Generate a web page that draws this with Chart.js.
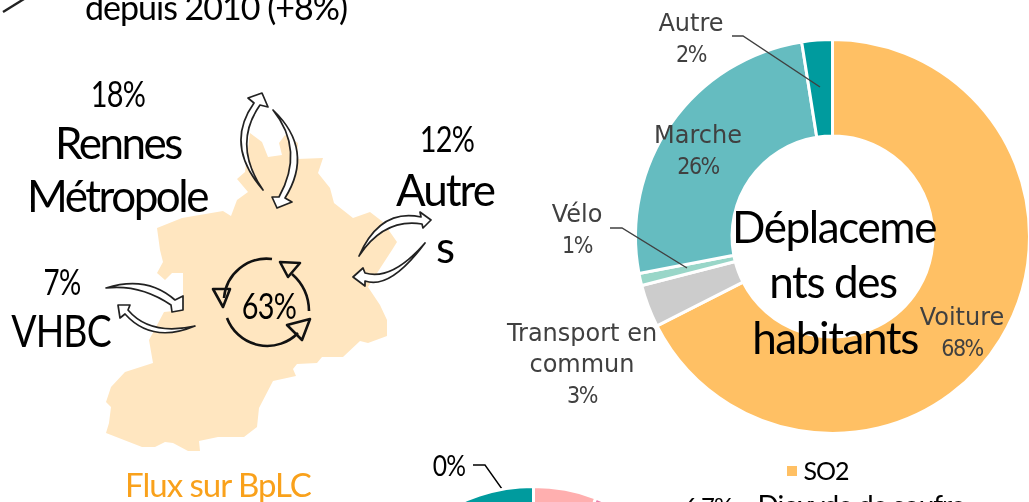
<!DOCTYPE html>
<html lang="fr"><head><meta charset="utf-8">
<script src="https://cdn.jsdelivr.net/npm/chart.js@4"></script>
<style>
html,body{margin:0;padding:0;background:#fff;width:1029px;height:502px;overflow:hidden}
#stage{position:relative;width:1029px;height:502px;overflow:hidden}
canvas{position:absolute}
svg{position:absolute;left:0;top:0}
.t{position:absolute;white-space:nowrap;font-family:Lato,sans-serif;color:#000;line-height:1}
</style></head><body>
<div id="stage">
<svg id="map" width="1029" height="502">
<polygon fill="#FFE6C0" points="250,133 262,142 268,157 282,155 279,143 285,135 298,143 297,159 323,158 318,173 330,188 334,203 353,218 370,212 383,222 397,242 392,250 368,287 380,305 387,320 387,336 368,343 360,341 343,357 322,357 317,363 297,364 293,369 296,376 273,381 259,408 257,427 244,437 218,437 199,441 200,451 188,451 173,443 165,442 155,447 142,447 106,433 109,423 111,407 106,402 111,387 125,372 153,363 149,340 164,312 183,310 183,273 172,273 165,280 157,273 163,262 160,250 157,228 182,218 223,211 231,216 237,200 248,192 237,179 245,172"/>
<line x1="3" y1="12" x2="24" y2="-1" stroke="#222" stroke-width="2.4"/>
<g id="arrows" fill="#fff" stroke="#222" stroke-width="1.7" stroke-linejoin="round"></g>
<g fill="none" stroke="#111" stroke-width="2.6" stroke-linejoin="round">
<path d="M272 259A43 43 0 0 0 224 298"/><polygon points="213,289 223,307 230,289"/>
<path d="M227 318A43 43 0 0 0 298 333"/><polygon points="287,325 310,319 302,340"/>
<path d="M309 311A50 50 0 0 0 292 274"/><polygon points="300,263 280,262 288,277"/>
</g>
<polyline points="473,465 485,465 512,503" fill="none" stroke="#000" stroke-width="1.4"/>
</svg>
<canvas id="modal" width="1040" height="502" style="left:0;top:0"></canvas>
<canvas id="air" width="353" height="353" style="left:357px;top:485px"></canvas>
<div id="texts"></div>
</div>
<script>
// Modal share of residents' trips, chart 1
const modeNames = ["Voiture","Transport en commun","Vélo","Marche","Autre"];
const modeValues = [67.5,3.5,1,25.5,2.5];
const modeColours = ["#FFC064","#CCCCCC","#99D6C8","#65BCC0","#009B9E"];
const modeLabels = [["Voiture","68%"],["Transport en","commun","3%"],["Vélo","1%"],["Marche","26%"],["Autre","2%"]];
const modeLabelAnchors = [[962,325],[582,341],[577,222],[698,143],[691,31]];
const modeLeaders = [null,null,[[610,228],[622,228],[687,268]],null,[[732,36],[743,36],[820,87]]];

// Air pollutants, chart 2 (only its top edge falls inside the picture)
const airNames = ["Dioxyde de soufre","Polluant 2","Reste","Autre"];
const airValues = [5.8,4.2,80,10];
const airColours = ["#FFAFAF","#E87EAB","#CCCCCC","#009B9E"];

// Flows on the territory: text, centre x, top y, font size, letter spacing, horizontal scale
const flowTexts = [
 ["depuis 2010 (+8%)",216,-10,34,-1,1],["18%",118,74,37,-1,.78],["Rennes",118,120,44,-2.5,1],["Métropole",117,173,44,-2.5,1],
 ["12%",447,119,37,-1,.78],["Autre",445,167,44,-2,1],["s",445,224,44,-1,1],["7%",62,262,37,-1,.75],["VHBC",61,308,44,-1,.85],["63%",269,286,37,-1,.78],
 ["0%",449,451,28,-1,.88],["SO2",826,458,25,-1,1],["Dioxyde de soufre",861,491,28,-1,1],["6,7%",708,494,24,-1,1]
];
const centreTitle = [["Déplaceme",834,204],["nts des",833,259],["habitants",835,315]];

const textLayer=document.getElementById('texts');
function addText(s,x,y,size,col,ls,sx){const d=document.createElement('div');d.className='t';d.textContent=s;
 d.style.cssText=`left:${x}px;top:${y}px;font-size:${size}px;color:${col};letter-spacing:${ls}px;transform:translateX(-50%) scaleX(${sx})`;textLayer.appendChild(d);}
flowTexts.forEach(t=>addText(t[0],t[1],t[2],t[3],'#000',t[4],t[5]));
centreTitle.forEach(t=>addText(t[0],t[1],t[2],44,'#000',-1.4,1));
addText("Flux sur BpLC",218,468,33,"#F9A11B",-1,1);
const sq=document.createElement('div');sq.style.cssText='position:absolute;left:787px;top:466px;width:10px;height:10px;background:#FFC064';textLayer.appendChild(sq);

// Decorative hand-drawn flow arrows
const arrowShapes=[
 "M263 190Q224 145 254 103L248 98L262 93L268 107L260 105Q232 145 263 190Z",
 "M273 110Q305 150 279 197L272 197L277 208L292 202L285 198Q315 150 273 110Z",
 "M359 256Q380 208 421 217L420 212L431 220L423 228L422 224Q384 218 359 256Z",
 "M425 243Q392 281 365 273L363 268L353 277L365 286L365 281Q390 290 425 243Z",
 "M106 288Q147 275 175 300L183 296L183 310L172 312L171 305Q140 284 106 288Z",
 "M195 326Q150 336 128 310L130 305L118 305L120 318L125 314Q152 344 195 326Z"];
document.getElementById('arrows').innerHTML=arrowShapes.map(d=>`<path d="${d}"/>`).join('');

const labelPlugin={id:'labels',afterDraw(c){const x=c.ctx;x.save();
 x.strokeStyle='#404040';x.lineWidth=1.4;
 modeLeaders.forEach(l=>{if(!l)return;x.beginPath();l.forEach((p,i)=>i?x.lineTo(p[0],p[1]):x.moveTo(p[0],p[1]));x.stroke();});
 x.fillStyle='#404040';x.textAlign='center';x.textBaseline='alphabetic';
 modeLabels.forEach((lines,i)=>lines.forEach((s,j)=>{
  const pct=s.endsWith('%');
  x.font=pct?'23px "DejaVu Sans Condensed","DejaVu Sans"':'24px "DejaVu Sans"';
  x.letterSpacing=pct?'-1.5px':'0px';
  x.fillText(s,modeLabelAnchors[i][0],modeLabelAnchors[i][1]+j*31);}));
 x.restore();}};
new Chart(document.getElementById('modal'),{type:'doughnut',
 data:{labels:modeNames,datasets:[{data:modeValues,backgroundColor:modeColours,borderColor:'#fff',borderWidth:3}]},
 options:{responsive:false,animation:false,cutout:'51%',layout:{padding:{left:634,right:9,top:38,bottom:67}},
  plugins:{legend:{display:false},tooltip:{enabled:false}}},plugins:[labelPlugin]});
new Chart(document.getElementById('air'),{type:'doughnut',
 data:{labels:airNames,datasets:[{data:airValues,backgroundColor:airColours,borderColor:'#fff',borderWidth:3}]},
 options:{responsive:false,animation:false,cutout:'55%',plugins:{legend:{display:false},tooltip:{enabled:false}}}});
</script>
</body></html>
